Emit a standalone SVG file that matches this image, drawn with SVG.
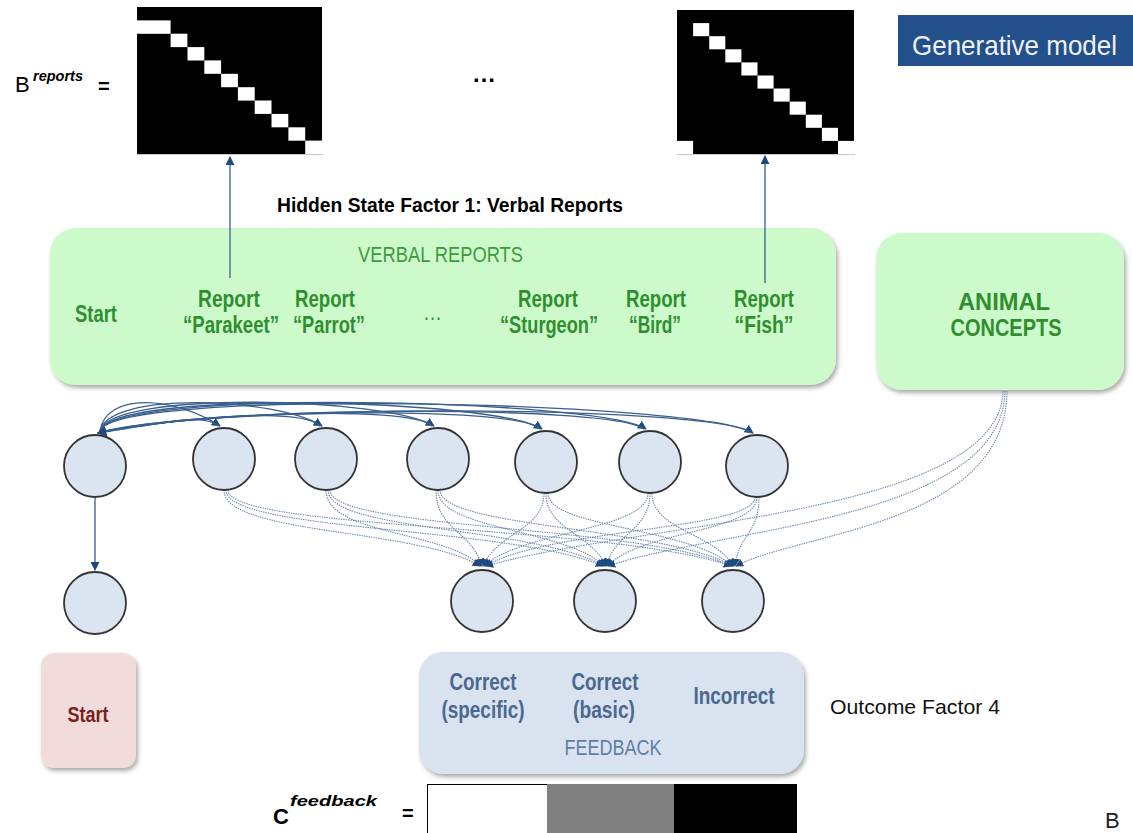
<svg xmlns="http://www.w3.org/2000/svg" width="1133" height="833" viewBox="0 0 1133 833">
  <style>
    .t { font-family: "Liberation Sans Narrow", "Liberation Sans", Arial, sans-serif; }
    .b { font-weight: bold; }
    .g { fill: #2f8f2f; }
    .fb { fill: #4b6890; font-weight: bold; }
    .node { fill: #dbe5f1; stroke: #333; stroke-width: 1.8; }
    .arc { fill: none; stroke: #3a5f8f; stroke-width: 1.3; }
    .dot { fill: none; stroke: #6a86ad; stroke-width: 1.1; stroke-dasharray: 1.4 1; }
    .blk { fill: #000; }
    .wht { fill: #fff; }
  </style>
  <defs>
    <marker id="ah" viewBox="0 0 10 10" refX="9" refY="5" markerWidth="9" markerHeight="9" markerUnits="userSpaceOnUse" orient="auto">
      <path d="M0,0 L10,5 L0,10 z" fill="#1f4a80"/>
    </marker>
    <marker id="ahs" viewBox="0 0 10 10" refX="9" refY="5" markerWidth="8" markerHeight="8" markerUnits="userSpaceOnUse" orient="auto">
      <path d="M0,0 L10,5 L0,10 z" fill="#1f4a80"/>
    </marker>
    <filter id="sh" x="-5%" y="-5%" width="112%" height="115%">
      <feDropShadow dx="2" dy="3" stdDeviation="2" flood-color="#444" flood-opacity="0.45"/>
    </filter>
  </defs>

  <rect width="1133" height="833" fill="#fff"/>

  <!-- transition matrices -->
  <g id="b-reports">
    <text class="t" x="15" y="92" font-size="22">B</text>
    <text class="t b" x="33" y="81" font-size="14" font-style="italic" textLength="50" lengthAdjust="spacingAndGlyphs">reports</text>
    <text class="t b" x="98" y="93" font-size="20">=</text>
    <rect class="blk" x="137" y="7" width="185" height="147"/>
    <rect class="wht" x="137" y="20.4" width="33.6" height="13.4"/>
    <rect class="wht" x="170.6" y="33.7" width="16.8" height="13.4"/>
    <rect class="wht" x="187.5" y="47.1" width="16.8" height="13.4"/>
    <rect class="wht" x="204.3" y="60.4" width="16.8" height="13.4"/>
    <rect class="wht" x="221.1" y="73.8" width="16.8" height="13.4"/>
    <rect class="wht" x="237.9" y="87.2" width="16.8" height="13.4"/>
    <rect class="wht" x="254.7" y="100.5" width="16.8" height="13.4"/>
    <rect class="wht" x="271.5" y="113.9" width="16.8" height="13.4"/>
    <rect class="wht" x="288.4" y="127.3" width="16.8" height="13.4"/>
    <rect class="wht" x="305.2" y="140.6" width="16.8" height="13.4"/>
    <line x1="137" y1="154.5" x2="323" y2="154.5" stroke="#c8c8c8" stroke-width="1"/>
  </g>

  <text class="t b" x="472" y="82" font-size="24">…</text>

  <g id="b-reports-last">
    <rect class="blk" x="677" y="10" width="177" height="144"/>
    <rect class="wht" x="693.1" y="23.1" width="16.1" height="13.1"/>
    <rect class="wht" x="709.2" y="36.2" width="16.1" height="13.1"/>
    <rect class="wht" x="725.3" y="49.3" width="16.1" height="13.1"/>
    <rect class="wht" x="741.4" y="62.4" width="16.1" height="13.1"/>
    <rect class="wht" x="757.5" y="75.5" width="16.1" height="13.1"/>
    <rect class="wht" x="773.6" y="88.5" width="16.1" height="13.1"/>
    <rect class="wht" x="789.7" y="101.6" width="16.1" height="13.1"/>
    <rect class="wht" x="805.8" y="114.7" width="16.1" height="13.1"/>
    <rect class="wht" x="821.9" y="127.8" width="16.1" height="13.1"/>
    <rect class="wht" x="838" y="140.9" width="16.1" height="13.1"/>
    <rect class="wht" x="677" y="140.9" width="16.1" height="13.1"/>
    <line x1="677" y1="154.5" x2="855" y2="154.5" stroke="#c8c8c8" stroke-width="1"/>
  </g>

  <g id="title-box">
    <rect x="898" y="15" width="235" height="51" fill="#23508a"/>
    <text class="t" x="912" y="55" font-size="28" fill="#eef2f8" textLength="205" lengthAdjust="spacingAndGlyphs">Generative model</text>
  </g>

  <text class="t b" x="277" y="212" font-size="21" textLength="346" lengthAdjust="spacingAndGlyphs">Hidden State Factor 1: Verbal Reports</text>

  <!-- factor boxes -->
  <g id="verbal-reports">
    <rect x="50" y="228" width="786" height="157" rx="26" fill="#cdfacb" filter="url(#sh)"/>
    <text class="t" x="358" y="262" font-size="22" fill="#3d9b3d" textLength="165" lengthAdjust="spacingAndGlyphs">VERBAL REPORTS</text>
    <text class="t b g" x="75" y="322" font-size="23" textLength="42" lengthAdjust="spacingAndGlyphs">Start</text>
    <g class="t b g" font-size="23" text-anchor="middle">
      <text x="229" y="307" textLength="62" lengthAdjust="spacingAndGlyphs">Report</text>
      <text x="231" y="333" textLength="96" lengthAdjust="spacingAndGlyphs">“Parakeet”</text>
      <text x="325" y="307" textLength="60" lengthAdjust="spacingAndGlyphs">Report</text>
      <text x="329" y="333" textLength="72" lengthAdjust="spacingAndGlyphs">“Parrot”</text>
      <text x="548" y="307" textLength="60" lengthAdjust="spacingAndGlyphs">Report</text>
      <text x="549" y="333" textLength="98" lengthAdjust="spacingAndGlyphs">“Sturgeon”</text>
      <text x="656" y="307" textLength="60" lengthAdjust="spacingAndGlyphs">Report</text>
      <text x="655" y="333" textLength="52" lengthAdjust="spacingAndGlyphs">“Bird”</text>
      <text x="764" y="307" textLength="60" lengthAdjust="spacingAndGlyphs">Report</text>
      <text x="764" y="333" textLength="59" lengthAdjust="spacingAndGlyphs">“Fish”</text>
    </g>
    <text class="t g" x="423" y="320" font-size="22" textLength="19" lengthAdjust="spacingAndGlyphs">…</text>
  </g>

  <g id="animal-concepts">
    <rect x="876" y="233" width="248" height="157" rx="26" fill="#cdfacb" filter="url(#sh)"/>
    <g class="t b g" font-size="23" text-anchor="middle">
      <text x="1004" y="310" textLength="92" lengthAdjust="spacingAndGlyphs">ANIMAL</text>
      <text x="1006" y="336" textLength="111" lengthAdjust="spacingAndGlyphs">CONCEPTS</text>
    </g>
  </g>

  <!-- connectors -->
  <g id="connectors">
    <!-- state to matrix -->
    <line class="arc" x1="230" y1="278" x2="230" y2="157" marker-end="url(#ah)"/>
    <line class="arc" x1="765" y1="283" x2="765" y2="156" marker-end="url(#ah)"/>

    <!-- start to every report -->
    <path class="arc" d="M100,431 C106,392 174,396 220,426" marker-end="url(#ah)"/>
    <path class="arc" d="M100,431 C108,391 276,397 322,426" marker-end="url(#ah)"/>
    <path class="arc" d="M100,431 C110,390 388,397 434,426" marker-end="url(#ah)"/>
    <path class="arc" d="M100,431 C112,389 496,399 542,429" marker-end="url(#ah)"/>
    <path class="arc" d="M100,431 C114,388 600,399 646,429" marker-end="url(#ah)"/>
    <path class="arc" d="M100,431 C116,387 707,402 753,433" marker-end="url(#ah)"/>

    <!-- every report back to start -->
    <path class="arc" d="M218,426 C205,412 160,424 98,433" marker-end="url(#ah)"/>
    <path class="arc" d="M320,426 C300,406 170,419 98,433" marker-end="url(#ah)"/>
    <path class="arc" d="M432,426 C410,404 180,414 98,433" marker-end="url(#ah)"/>
    <path class="arc" d="M540,429 C515,404 190,410 98,433" marker-end="url(#ah)"/>
    <path class="arc" d="M644,429 C615,404 200,406 98,433" marker-end="url(#ah)"/>
    <path class="arc" d="M751,433 C720,405 210,402 98,433" marker-end="url(#ah)"/>

    <!-- start state to start outcome -->
    <line class="arc" x1="95" y1="497" x2="95" y2="570" marker-end="url(#ah)"/>

    <!-- reports to feedback outcomes -->
    <path class="dot" d="M224,490 C224,535 417,528 480,566" marker-end="url(#ahs)"/>
    <path class="dot" d="M226,490 C226,532 510,526 603,566" marker-end="url(#ahs)"/>
    <path class="dot" d="M228,490 C228,530 610,524 731,566" marker-end="url(#ahs)"/>
    <path class="dot" d="M326,490 C326,535 443,530 481,566" marker-end="url(#ahs)"/>
    <path class="dot" d="M328,490 C328,532 535,526 604,566" marker-end="url(#ahs)"/>
    <path class="dot" d="M330,490 C330,530 635,524 732,566" marker-end="url(#ahs)"/>
    <path class="dot" d="M436,490 C436,530 471,530 482,566" marker-end="url(#ahs)"/>
    <path class="dot" d="M438,490 C438,530 563,528 605,566" marker-end="url(#ahs)"/>
    <path class="dot" d="M440,490 C440,528 660,526 733,566" marker-end="url(#ahs)"/>
    <path class="dot" d="M544,493 C544,530 498,532 483,566" marker-end="url(#ahs)"/>
    <path class="dot" d="M546,493 C546,530 590,532 606,566" marker-end="url(#ahs)"/>
    <path class="dot" d="M548,493 C548,528 686,526 733,566" marker-end="url(#ahs)"/>
    <path class="dot" d="M648,493 C648,530 524,530 484,566" marker-end="url(#ahs)"/>
    <path class="dot" d="M650,493 C650,530 616,532 606,566" marker-end="url(#ahs)"/>
    <path class="dot" d="M652,493 C652,530 712,532 734,566" marker-end="url(#ahs)"/>
    <path class="dot" d="M755,497 C755,530 551,528 485,566" marker-end="url(#ahs)"/>
    <path class="dot" d="M757,497 C757,532 643,530 607,566" marker-end="url(#ahs)"/>
    <path class="dot" d="M759,497 C759,534 739,534 735,566" marker-end="url(#ahs)"/>

    <!-- concepts to feedback outcomes -->
    <path class="dot" d="M1003,391 C1000,515 640,522 486,566" marker-end="url(#ahs)"/>
    <path class="dot" d="M1005,391 C1003,520 720,528 608,566" marker-end="url(#ahs)"/>
    <path class="dot" d="M1007,391 C1006,525 800,532 736,566" marker-end="url(#ahs)"/>
  </g>

  <!-- state nodes -->
  <g id="state-start"><circle class="node" cx="95" cy="466" r="31"/></g>
  <g id="state-parakeet"><circle class="node" cx="224" cy="459" r="31"/></g>
  <g id="state-parrot"><circle class="node" cx="326" cy="459" r="31"/></g>
  <g id="state-other"><circle class="node" cx="438" cy="459" r="31"/></g>
  <g id="state-sturgeon"><circle class="node" cx="546" cy="462" r="31"/></g>
  <g id="state-bird"><circle class="node" cx="650" cy="462" r="31"/></g>
  <g id="state-fish"><circle class="node" cx="757" cy="466" r="31"/></g>

  <!-- outcome nodes -->
  <g id="outcome-start"><circle class="node" cx="95" cy="603" r="31"/></g>
  <g id="outcome-specific"><circle class="node" cx="482" cy="601" r="31"/></g>
  <g id="outcome-basic"><circle class="node" cx="605" cy="601" r="31"/></g>
  <g id="outcome-incorrect"><circle class="node" cx="733" cy="601" r="31"/></g>

  <!-- outcome boxes -->
  <g id="start-box">
    <rect x="41" y="653" width="95" height="115" rx="13" fill="#f2dcdb" filter="url(#sh)"/>
    <text class="t b" x="88" y="722" font-size="22" fill="#7b1f1f" text-anchor="middle" textLength="41" lengthAdjust="spacingAndGlyphs">Start</text>
  </g>

  <g id="feedback-box">
    <rect x="419" y="652" width="385" height="122" rx="24" fill="#d9e2ef" filter="url(#sh)"/>
    <g class="t fb" font-size="23" text-anchor="middle">
      <text x="483" y="690" textLength="67" lengthAdjust="spacingAndGlyphs">Correct</text>
      <text x="483" y="718" textLength="83" lengthAdjust="spacingAndGlyphs">(specific)</text>
      <text x="605" y="690" textLength="67" lengthAdjust="spacingAndGlyphs">Correct</text>
      <text x="604" y="718" textLength="62" lengthAdjust="spacingAndGlyphs">(basic)</text>
      <text x="734" y="704" textLength="81" lengthAdjust="spacingAndGlyphs">Incorrect</text>
    </g>
    <text class="t" x="613" y="755" font-size="22" fill="#5e7ea5" text-anchor="middle" textLength="97" lengthAdjust="spacingAndGlyphs">FEEDBACK</text>
  </g>

  <text class="t" x="830" y="714" font-size="21" fill="#111" textLength="170" lengthAdjust="spacingAndGlyphs">Outcome Factor 4</text>

  <!-- preference vector -->
  <g id="c-feedback">
    <text class="t b" x="273" y="824" font-size="22">C</text>
    <text class="t b" x="290" y="806" font-size="14" font-style="italic" textLength="87" lengthAdjust="spacingAndGlyphs">feedback</text>
    <text class="t b" x="402" y="820" font-size="20">=</text>
    <rect x="427.5" y="784.5" width="120" height="50" fill="#fff" stroke="#000" stroke-width="1"/>
    <rect x="547" y="784" width="127" height="49" fill="#808080"/>
    <rect x="674" y="784" width="123" height="49" fill="#000"/>
  </g>

  <text class="t" x="1105" y="828" font-size="22" fill="#222">B</text>
</svg>
